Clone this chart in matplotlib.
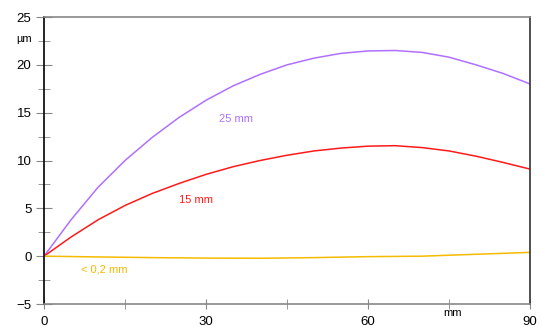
import matplotlib
matplotlib.use("Agg")
from matplotlib import pyplot as plt

plt.rcParams['font.family'] = ['Liberation Sans', 'DejaVu Sans']

# position along the part (mm), every 5 mm
x_mm = [0, 5, 10, 15, 20, 25, 30, 35, 40, 45, 50, 55, 60, 65, 70, 75, 80, 85, 90]

# deviation (um) for each gap size
dev_25 = [0, 3.8, 7.2, 10.0, 12.4, 14.5, 16.3, 17.8, 19.0, 20.0, 20.7, 21.2, 21.45, 21.5, 21.3, 20.8, 20.0, 19.1, 18.0]
dev_15 = [0, 2.0, 3.8, 5.3, 6.55, 7.6, 8.55, 9.35, 10.0, 10.55, 11.0, 11.3, 11.5, 11.55, 11.35, 11.0, 10.45, 9.8, 9.1]

x_02 = [0, 10, 20, 30, 40, 50, 60, 70, 80, 90]
dev_02 = [0, -0.08, -0.15, -0.2, -0.22, -0.15, -0.05, 0.0, 0.2, 0.4]

fig = plt.figure(figsize=(5.42, 3.27), dpi=100)
ax = fig.add_axes([0.0812, 0.0703, 0.8968, 0.8777])

ax.plot(x_mm, dev_25, color="#b070ff", lw=1.1)
ax.plot(x_mm, dev_15, color="#ff1a1a", lw=1.1)
ax.plot(x_02, dev_02, color="#f5bb00", lw=1.1)

ax.text(35.6, 14.3, "25 mm", color="#b070ff", fontsize=8, ha="center", va="center")
ax.text(28.1, 5.85, "15 mm", color="#ff1a1a", fontsize=8, ha="center", va="center")
ax.text(11.1, -1.35, "< 0,2 mm", color="#f5bb00", fontsize=8, ha="center", va="center")

ax.set_xlim(0, 90)
ax.set_ylim(-5, 25)
ax.set_xticks([0, 30, 60, 90])
ax.set_xticks([15, 45, 75], minor=True)
ax.set_yticks([-5, 0, 5, 10, 15, 20, 25])
ax.set_yticks([-2.5, 2.5, 7.5, 12.5, 17.5, 22.5], minor=True)

ax.tick_params(axis="y", which="major", direction="inout", length=12,
               color="#888888", labelsize=9.5, pad=3)
ax.tick_params(axis="y", which="minor", direction="inout", length=9, color="#888888")
ax.tick_params(axis="x", which="major", direction="inout", length=7,
               color="#888888", labelsize=9.5, pad=5)
ax.tick_params(axis="x", which="minor", direction="inout", length=7, color="#888888")

ax.spines["left"].set_color("black")
ax.spines["right"].set_color("#333333")
ax.spines["top"].set_color("#888888")
ax.spines["bottom"].set_color("#888888")
for s in ax.spines.values():
    s.set_linewidth(1.2)

# unit labels sit where tick labels would be
ax.text(-2.2, 22.7, "µm", fontsize=8, ha="right", va="center")
ax.text(75.7, -5.95, "mm", fontsize=8, ha="center", va="center")

plt.savefig("out.png", dpi=100)
